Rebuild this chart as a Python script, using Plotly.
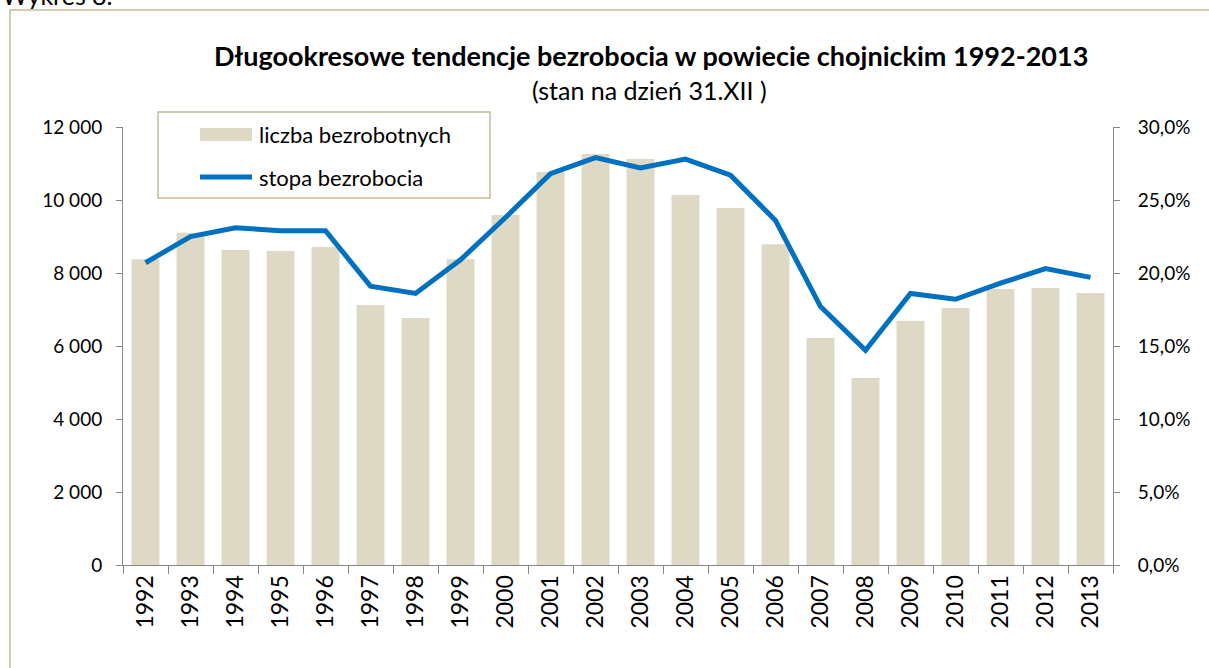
import plotly.graph_objects as go

# dane
lata = [str(r) for r in range(1992, 2014)]
liczba_bezrobotnych = [8380, 9100, 8630, 8600, 8710, 7120, 6770, 8380, 9590, 10770, 11260,
                       11120, 10140, 9780, 8790, 6220, 5120, 6690, 7040, 7560, 7590, 7450]
stopa_bezrobocia = [20.7, 22.5, 23.1, 22.9, 22.9, 19.1, 18.6, 20.9, 23.8, 26.8, 27.9,
                    27.2, 27.8, 26.7, 23.6, 17.7, 14.7, 18.6, 18.2, 19.3, 20.3, 19.7]

FONT = "Lato"
BAR_COLOR = "#ddd9c4"
LINE_COLOR = "#0070c0"
AXIS_COLOR = "#868686"
FRAME_COLOR = "#c4bd97"

W, H = 1209, 668
L, R, T, B = 123, 96, 127, 103
pw, ph = W - L - R, H - T - B


def px(x):
    return (x - L) / pw


def py(y):
    return (H - B - y) / ph


fig = go.Figure()
fig.add_trace(go.Bar(x=lata, y=liczba_bezrobotnych, name="liczba bezrobotnych",
                     marker=dict(color=BAR_COLOR, line=dict(width=0)), showlegend=False))
fig.add_trace(go.Scatter(x=lata, y=stopa_bezrobocia, name="stopa bezrobocia", yaxis="y2",
                         mode="lines", line=dict(color=LINE_COLOR, width=5), showlegend=False))

fig.update_layout(
    width=W, height=H,
    margin=dict(l=L, r=R, t=T, b=B),
    paper_bgcolor="white", plot_bgcolor="white",
    separators=", ",
    font=dict(family=FONT, size=19, color="black"),
    bargap=0.38,
    xaxis=dict(type="category", showgrid=False, showline=True, linecolor=AXIS_COLOR, linewidth=1,
               ticks="outside", tickson="boundaries", ticklen=8, tickcolor=AXIS_COLOR,
               tickangle=-90, tickfont=dict(size=23)),
    yaxis=dict(range=[0, 12000], dtick=2000, tickformat=",d", showgrid=False, zeroline=False,
               showline=True, linecolor=AXIS_COLOR, ticks="outside", ticklen=6,
               tickcolor=AXIS_COLOR, ticklabelstandoff=10),
    yaxis2=dict(range=[0, 30], dtick=5, tickformat=".1f", ticksuffix="%", overlaying="y",
                side="right", showgrid=False, zeroline=False, showline=True,
                linecolor=AXIS_COLOR, ticks="outside", ticklen=6, tickcolor=AXIS_COLOR,
                ticklabelstandoff=14),
)

# ramka wykresu
fig.add_shape(type="rect", xref="paper", yref="paper", x0=px(10), x1=px(1230), y0=py(690), y1=py(10),
              line=dict(color=FRAME_COLOR, width=1.5), layer="below")

# tytuły
fig.add_annotation(text="Wykres 8.", xref="paper", yref="paper", x=px(0), y=py(-5),
                   xanchor="left", yanchor="middle", showarrow=False, font=dict(size=25))
fig.add_annotation(text="<b>Długookresowe tendencje bezrobocia w powiecie chojnickim 1992-2013</b>",
                   xref="paper", yref="paper", x=px(651), y=py(55), xanchor="center", yanchor="middle",
                   showarrow=False, font=dict(size=27))
fig.add_annotation(text="(stan na dzień 31.XII )", xref="paper", yref="paper", x=px(649), y=py(90),
                   xanchor="center", yanchor="middle", showarrow=False, font=dict(size=25))

# legenda
fig.add_shape(type="rect", xref="paper", yref="paper", x0=px(158), x1=px(490), y0=py(198), y1=py(112),
              line=dict(color=FRAME_COLOR, width=1.5), fillcolor="white")
fig.add_shape(type="rect", xref="paper", yref="paper", x0=px(200), x1=px(252), y0=py(141), y1=py(128),
              line=dict(width=0), fillcolor=BAR_COLOR)
fig.add_shape(type="line", xref="paper", yref="paper", x0=px(200), x1=px(252), y0=py(177), y1=py(177),
              line=dict(color=LINE_COLOR, width=5))
fig.add_annotation(text="liczba bezrobotnych", xref="paper", yref="paper", x=px(257), y=py(134),
                   xanchor="left", yanchor="middle", showarrow=False, font=dict(size=22))
fig.add_annotation(text="stopa bezrobocia", xref="paper", yref="paper", x=px(257), y=py(177),
                   xanchor="left", yanchor="middle", showarrow=False, font=dict(size=22))

fig.write_html("out.html", config={"displayModeBar": False},
               post_script="document.body.style.margin='0px';")
